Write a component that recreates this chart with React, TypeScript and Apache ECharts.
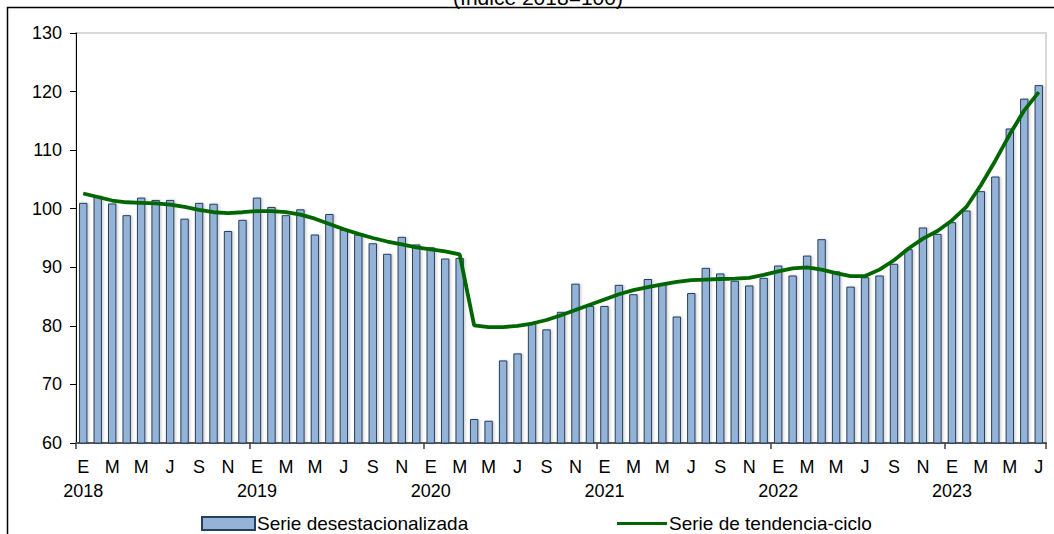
import React, { useEffect, useRef } from 'react';
import * as echarts from 'echarts';

// monthly letters (Spanish) and years, Jan 2018 .. Jul 2023
const monthLetters = ['E', 'F', 'M', 'A', 'M', 'J', 'J', 'A', 'S', 'O', 'N', 'D'];
const years = ['2018', '2019', '2020', '2021', '2022', '2023'];
const monthCount = 67;

// serie desestacionalizada
const seasonallyAdjusted = [
  101.0, 102.2, 100.9, 98.9, 101.9, 101.5, 101.5, 98.3, 101.0, 100.85, 96.2, 98.1,
  101.9, 100.3, 98.9, 99.9, 95.6, 99.1, 96.4, 95.6, 94.1, 92.3, 95.2, 93.9,
  93.4, 91.5, 91.6, 64.1, 63.8, 74.1, 75.3, 80.5, 79.4, 82.4, 87.2, 83.4,
  83.4, 87.0, 85.4, 88.0, 87.1, 81.6, 85.6, 89.9, 88.95, 87.7, 86.9, 88.2,
  90.3, 88.6, 92.0, 94.8, 89.3, 86.7, 88.3, 88.6, 90.6, 93.1, 96.8, 95.7,
  97.7, 99.7, 103.0, 105.5, 113.7, 118.8, 121.1,
];

// serie de tendencia-ciclo
const trendCycle = [
  102.6, 102.0, 101.4, 101.1, 101.0, 100.9, 100.7, 100.3, 99.8, 99.4, 99.25, 99.4,
  99.6, 99.6, 99.4, 99.0, 98.3, 97.4, 96.5, 95.7, 95.0, 94.4, 93.9, 93.4,
  93.05, 92.7, 92.2, 80.1, 79.8, 79.8, 80.0, 80.4, 81.0, 81.8, 82.7, 83.6,
  84.5, 85.4, 86.1, 86.6, 87.1, 87.5, 87.8, 87.9, 88.0, 88.05, 88.2, 88.7,
  89.3, 89.8, 90.0, 89.6, 89.0, 88.5, 88.5, 89.6, 91.2, 93.2, 94.9, 96.2,
  98.0, 100.3, 104.0, 108.2, 112.7, 116.8, 119.9,
];

const yTicks = { min: 60, max: 130, interval: 10 };

const categories: string[] = [];
for (let i = 0; i < monthCount; i++) {
  categories.push(`${monthLetters[i % 12]}|${years[Math.floor(i / 12)]}`);
}

const FONT = "'Liberation Sans', Arial, sans-serif";

export default function App() {
  const ref = useRef<HTMLDivElement | null>(null);

  useEffect(() => {
    document.body.style.margin = '0';
    if (!ref.current) return;
    const chart = echarts.init(ref.current, undefined, { renderer: 'svg' });
    chart.setOption({
      animation: false,
      backgroundColor: '#fff',
      textStyle: { fontFamily: FONT, color: '#000' },
      graphic: [
        {
          // title sits above the frame, only its lower part is in view
          type: 'text',
          x: 538,
          y: 8,
          style: {
            text: '(Índice 2018=100)',
            align: 'center',
            verticalAlign: 'bottom',
            font: `21px ${FONT}`,
            fill: '#000',
          },
        },
        {
          type: 'polyline',
          shape: { points: [[7.5, 540], [7.5, 7.5], [1060, 7.5]] },
          style: { stroke: '#000', lineWidth: 1.5, fill: 'none' },
          z: 10,
        },
      ],
      grid: {
        left: 76, right: 8, top: 33, bottom: 91,
        show: true, borderColor: '#d9d9d9', borderWidth: 2,
      },
      legend: [
        {
          data: [{ name: 'Serie desestacionalizada', icon: 'rect' }],
          left: 196, top: 509,
          itemWidth: 53, itemHeight: 13, itemGap: 0,
          textStyle: { fontSize: 19, fontFamily: FONT, color: '#000', padding: [0, 0, 0, -3] },
        },
        {
          data: [{ name: 'Serie de tendencia-ciclo', icon: 'rect' }],
          left: 612, top: 509,
          itemWidth: 50, itemHeight: 3,
          itemStyle: { color: '#006600', borderWidth: 0 },
          textStyle: { fontSize: 19, fontFamily: FONT, color: '#000', padding: [0, 0, 0, -3] },
        },
      ],
      xAxis: {
        type: 'category',
        data: categories,
        boundaryGap: true,
        axisLine: { lineStyle: { color: '#595959', width: 2 } },
        axisTick: {
          show: true,
          length: 6,
          interval: (index: number) => index % 12 === 0,
          lineStyle: { color: '#404040', width: 1.5 },
        },
        axisLabel: {
          interval: 1,
          margin: 12,
          fontSize: 18,
          lineHeight: 24,
          color: '#000',
          fontFamily: FONT,
          formatter: (v: string, index: number) => {
            const [m, y] = v.split('|');
            return index % 12 === 0 ? `${m}\n${y}` : m;
          },
        },
        splitLine: { show: false },
      },
      yAxis: {
        type: 'value',
        min: yTicks.min,
        max: yTicks.max,
        interval: yTicks.interval,
        axisLine: { show: true, lineStyle: { color: '#000', width: 1 } },
        axisTick: { show: true, length: 6, lineStyle: { color: '#000' } },
        axisLabel: { fontSize: 18, color: '#000', margin: 14, fontFamily: FONT },
        splitLine: { show: false },
      },
      series: [
        {
          name: 'Serie desestacionalizada',
          type: 'bar',
          data: seasonallyAdjusted,
          barCategoryGap: '42%',
          itemStyle: {
            color: '#95b3d7',
            borderColor: '#243f60',
            borderWidth: 1,
            shadowColor: 'rgba(0,0,0,0.18)',
            shadowBlur: 2,
            shadowOffsetX: 1.5,
            shadowOffsetY: 0,
          },
        },
        {
          name: 'Serie de tendencia-ciclo',
          type: 'line',
          data: trendCycle,
          symbol: 'none',
          smooth: false,
          lineStyle: { color: '#006600', width: 3.8 },
          itemStyle: { color: '#006600' },
          z: 3,
        },
      ],
    });
    return () => { chart.dispose(); };
  }, []);

  return <div ref={ref} style={{ position: 'fixed', left: 0, top: 0, width: 1054, height: 534 }} />;
}
